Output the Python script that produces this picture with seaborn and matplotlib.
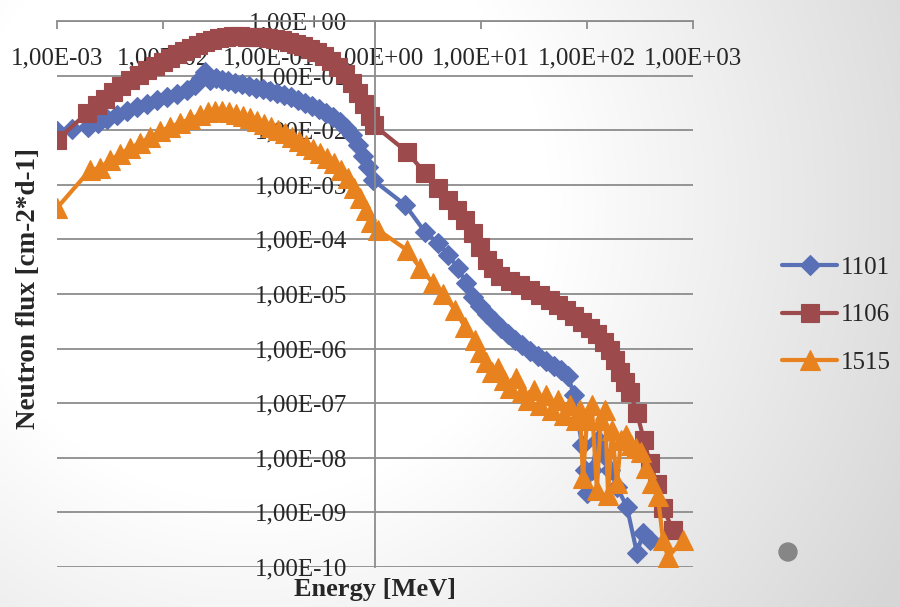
import numpy as np
import pandas as pd
import matplotlib
matplotlib.use("Agg")
import matplotlib.pyplot as plt
from matplotlib.ticker import FixedLocator, FuncFormatter, NullLocator
from matplotlib.patches import Circle
import seaborn as sns

# Neutron spectra (energy in MeV, flux in cm-2*d-1)
energy_1101 = [1.0e-3, 1.39e-3, 1.96e-3, 2.44e-3, 2.96e-3, 3.68e-3, 4.57e-3, 5.69e-3, 7.06e-3, 8.77e-3,
               1.09e-2, 1.36e-2, 1.68e-2, 2.0e-2, 2.28e-2, 2.49e-2, 2.77e-2, 3.16e-2, 3.6e-2, 4.1e-2,
               4.78e-2, 5.56e-2, 6.47e-2, 7.5e-2, 8.8e-2, 0.102, 0.119, 0.139, 0.161, 0.188,
               0.219, 0.255, 0.296, 0.345, 0.402, 0.468, 0.532, 0.61, 0.69, 0.77,
               0.86, 0.96, 1.92, 2.96, 3.93, 4.89, 6.07, 7.2, 8.41, 9.8,
               11.4, 13.3, 15.5, 18.0, 20.9, 24.4, 29.0, 34.5, 41.0, 48.8,
               56.9, 66.2, 75.4, 82.2, 89.7, 95.7, 100, 111, 127, 145,
               165, 192, 238, 296, 338, 393]
flux_1101 = [9.7e-3, 1.05e-2, 1.14e-2, 1.36e-2, 1.6e-2, 1.9e-2, 2.25e-2, 2.66e-2, 3.0e-2, 3.57e-2,
             4.06e-2, 4.6e-2, 5.45e-2, 6.7e-2, 9.0e-2, 0.116, 8.3e-2, 9.0e-2, 8.3e-2, 8.0e-2,
             7.3e-2, 7.0e-2, 6.45e-2, 5.9e-2, 5.7e-2, 5.2e-2, 4.8e-2, 4.4e-2, 4.06e-2, 3.57e-2,
             3.15e-2, 2.77e-2, 2.44e-2, 2.07e-2, 1.75e-2, 1.41e-2, 1.1e-2, 8.2e-3, 5.4e-3, 3.37e-3,
             2.12e-3, 1.22e-3, 4.3e-4, 1.37e-4, 8.6e-5, 5.2e-5, 3.0e-5, 1.59e-5, 8.8e-6, 6.0e-6,
             4.3e-6, 3.2e-6, 2.38e-6, 1.85e-6, 1.44e-6, 1.16e-6, 9.0e-7, 7.3e-7, 5.9e-7, 4.8e-7,
             4.06e-7, 3.15e-7, 1.41e-7, 4.9e-8, 1.71e-8, 6.0e-9, 2.26e-9, 6.0e-9, 2.1e-8, 1.12e-8,
             6.0e-9, 2.9e-9, 1.26e-9, 1.8e-10, 4.2e-10, 3.1e-10]

energy_1106 = [1.0e-3, 1.92e-3, 2.38e-3, 2.84e-3, 3.38e-3, 4.02e-3, 4.88e-3, 5.94e-3, 7.06e-3, 8.41e-3,
               1.0e-2, 1.16e-2, 1.36e-2, 1.58e-2, 1.84e-2, 2.14e-2, 2.49e-2, 2.9e-2, 3.37e-2, 3.93e-2,
               4.57e-2, 5.33e-2, 6.2e-2, 7.2e-2, 8.4e-2, 9.8e-2, 0.114, 0.133, 0.155, 0.18,
               0.21, 0.244, 0.284, 0.33, 0.385, 0.448, 0.52, 0.61, 0.69, 0.79,
               0.90, 0.97, 2.0, 2.96, 3.93, 4.89, 5.94, 7.06, 8.41, 9.8,
               11.4, 13.0, 15.1, 18.8, 23.4, 29.0, 36.1, 44.8, 53.2, 63.4,
               75.4, 89.7, 107, 124, 145, 165, 184, 205, 228, 255,
               296, 345, 393, 457, 521, 647]
flux_1106 = [6.6e-3, 2.07e-2, 2.9e-2, 3.73e-2, 5.0e-2, 6.45e-2, 8.3e-2, 0.103, 0.127, 0.15,
             0.177, 0.21, 0.249, 0.283, 0.32, 0.363, 0.41, 0.45, 0.49, 0.51,
             0.53, 0.53, 0.52, 0.51, 0.5, 0.49, 0.47, 0.45, 0.41, 0.38,
             0.35, 0.31, 0.27, 0.23, 0.185, 0.144, 0.107, 0.073, 0.048, 0.030,
             0.018, 1.25e-2, 4.0e-3, 1.64e-3, 8.7e-4, 5.3e-4, 3.45e-4, 2.27e-4, 1.31e-4, 7.3e-5,
             4.2e-5, 3.0e-5, 2.1e-5, 1.73e-5, 1.46e-5, 1.18e-5, 9.6e-6, 7.8e-6, 6.3e-6, 5.1e-6,
             3.95e-6, 3.07e-6, 2.38e-6, 1.85e-6, 1.32e-6, 9.4e-7, 6.2e-7, 3.72e-7, 2.44e-7, 1.6e-7,
             6.6e-8, 2.1e-8, 8.0e-9, 3.3e-9, 1.2e-9, 4.8e-10]

energy_1515 = [1.0e-3, 2.05e-3, 2.55e-3, 3.16e-3, 3.93e-3, 4.88e-3, 6.07e-3, 7.54e-3, 9.4e-3, 1.16e-2,
               1.45e-2, 1.8e-2, 2.23e-2, 2.66e-2, 3.1e-2, 3.6e-2, 4.2e-2, 4.9e-2, 5.7e-2, 6.62e-2,
               7.7e-2, 8.98e-2, 0.104, 0.122, 0.142, 0.165, 0.192, 0.223, 0.26, 0.303,
               0.352, 0.41, 0.478, 0.556, 0.634, 0.72, 0.82, 0.92, 1.07, 2.0,
               2.66, 3.52, 4.38, 5.69, 7.06, 8.78, 9.8, 11.1, 12.7, 14.5,
               16.5, 18.8, 21.4, 24.4, 27.7, 31.6, 36.1, 41.0, 46.8, 53.2,
               60.7, 69.1, 78.7, 85.9, 91.6, 100, 111, 124, 135, 148,
               158, 172, 192, 209, 233, 260, 290, 323, 360, 410,
               467, 521, 581, 805]
flux_1515 = [3.76e-4, 1.87e-3, 2.03e-3, 2.84e-3, 3.66e-3, 4.72e-3, 5.8e-3, 7.5e-3, 9.7e-3, 1.14e-2,
             1.36e-2, 1.6e-2, 1.9e-2, 2.15e-2, 2.25e-2, 2.25e-2, 2.15e-2, 1.98e-2, 1.82e-2, 1.67e-2,
             1.47e-2, 1.3e-2, 1.14e-2, 1.0e-2, 8.9e-3, 7.5e-3, 6.3e-3, 5.4e-3, 4.5e-3, 3.82e-3,
             3.1e-3, 2.5e-3, 1.87e-3, 1.33e-3, 8.7e-4, 5.7e-4, 3.45e-4, 2.08e-4, 1.49e-4, 6.4e-5,
             3.0e-5, 1.59e-5, 1.0e-5, 5.1e-6, 2.49e-6, 1.44e-6, 8.7e-7, 5.7e-7, 3.72e-7, 4.4e-7,
             2.66e-7, 1.9e-7, 2.9e-7, 1.6e-7, 1.15e-7, 1.75e-7, 9.3e-8, 1.41e-7, 7.5e-8, 1.15e-7,
             6.1e-8, 9.3e-8, 4.9e-8, 7.5e-8, 4.3e-9, 4.9e-8, 9.3e-8, 2.57e-9, 4.9e-8, 7.5e-8,
             2.08e-9, 3.2e-8, 3.45e-9, 2.1e-8, 2.6e-8, 1.71e-8, 1.51e-8, 1.28e-8, 6.5e-9, 3.45e-9,
             2.0e-9, 3.1e-10, 1.52e-10, 3.1e-10]

x_ticks = [1e-3, 1e-2, 1e-1, 1e0, 1e1, 1e2, 1e3]
y_ticks = [1e-10, 1e-9, 1e-8, 1e-7, 1e-6, 1e-5, 1e-4, 1e-3, 1e-2, 1e-1, 1e0]

series = [
    ("1101", energy_1101, flux_1101, "#5a70b6", "D", 10.0),
    ("1106", energy_1106, flux_1106, "#9c4a4b", "s", 12.5),
    ("1515", energy_1515, flux_1515, "#e8821e", "^", 14.5),
]

sns.set_style("white")
plt.rcParams['font.family'] = ['Liberation Serif', 'DejaVu Serif']
grid_col = '#8c8c8c'
fs = 18


def excel_sci(v, pos):
    e = int(np.floor(np.log10(v) + 1e-9))
    m = v / 10 ** e
    return f"{m:.2f}E{e:+03d}".replace('.', ',')


fig = plt.figure(figsize=(9, 6.07), dpi=100)

# slide background
bg = fig.add_axes([0, 0, 1, 1], zorder=-5)
yy, xx = np.mgrid[0:607, 0:900]
r = np.hypot(xx - 250, yy - 200)
shade = 1 - 0.16 * np.clip((r - 300) / 450, 0, 1)
bg.imshow(np.dstack([shade, shade, shade]), extent=(0, 900, 607, 0), aspect='auto')
bg.add_patch(Circle((788, 552), 9, color='#868686'))
bg.set_xlim(0, 900)
bg.set_ylim(607, 0)
bg.axis('off')

ax = fig.add_axes([57 / 900, 1 - 567 / 607, 636 / 900, 546 / 607])
ax.patch.set_visible(False)
ax.set(xscale='log', yscale='log')

for name, e, f, col, mk, ms in series:
    sns.lineplot(x=e, y=f, ax=ax, color=col, marker=mk, markersize=ms,
                 markeredgecolor=col, markeredgewidth=0.8, linewidth=3,
                 estimator=None, sort=False, label=name)

ax.set_xlim(1e-3, 1e3)
ax.set_ylim(1e-10, 1e0)
ax.xaxis.set_major_locator(FixedLocator(x_ticks))
ax.yaxis.set_major_locator(FixedLocator(y_ticks))
ax.xaxis.set_minor_locator(NullLocator())
ax.yaxis.set_minor_locator(NullLocator())
ax.xaxis.set_major_formatter(FuncFormatter(excel_sci))
ax.yaxis.set_major_formatter(FuncFormatter(excel_sci))

ax.grid(axis='y', color=grid_col, linewidth=1.3)
ax.grid(axis='x', visible=False)
for s in ['right', 'bottom']:
    ax.spines[s].set_visible(False)
ax.spines['left'].set_position(('data', 1.0))
ax.spines['left'].set_color(grid_col)
ax.spines['left'].set_linewidth(1.3)
ax.spines['top'].set_color(grid_col)
ax.spines['top'].set_linewidth(1.3)

ax.tick_params(axis='x', top=True, bottom=False, labeltop=True, labelbottom=False,
               direction='in', length=6, width=1.3, color=grid_col, pad=-35,
               labelsize=fs)
ax.tick_params(axis='y', left=True, right=False, direction='out', length=0,
               pad=20, labelsize=fs)

ax.set_ylabel("Neutron flux [cm-2*d-1]", fontsize=19.5, fontweight='bold')
ax.yaxis.set_label_coords(-0.025, 0.51)
ax.xaxis.set_label_position('bottom')
ax.set_xlabel("Energy [MeV]", fontsize=19, fontweight='bold')
ax.xaxis.set_label_coords(0.5, -0.02)

ax.legend(loc='center left', bbox_to_anchor=(0.858, 0.481), bbox_transform=fig.transFigure,
          frameon=False, fontsize=fs, handlelength=2.2, handletextpad=0.15,
          labelspacing=1.0, borderaxespad=0)

fig.savefig("out.png", dpi=100)
